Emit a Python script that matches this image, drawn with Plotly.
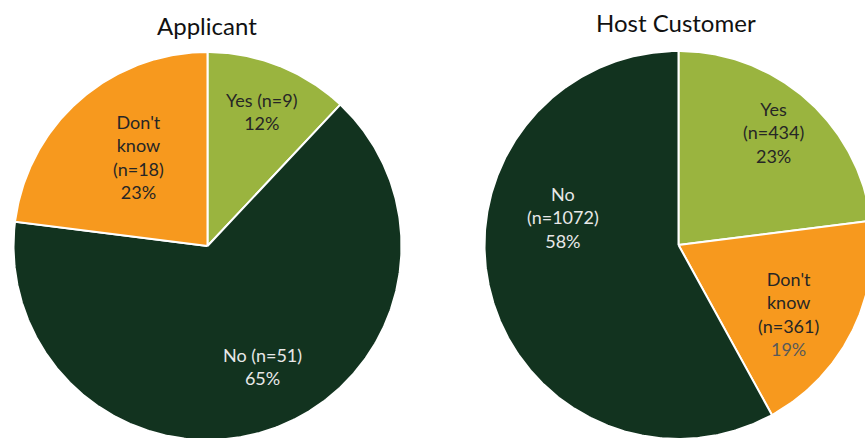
import numpy as np
import plotly.graph_objects as go

# Survey responses, listed clockwise from 12 o'clock for each pie
applicant_categories = ["Yes", "No", "Don't know"]
applicant_n = [9, 51, 18]
applicant_pct = [12, 65, 23]

host_categories = ["Yes", "Don't know", "No"]
host_n = [434, 361, 1072]
host_pct = [23, 19, 58]

SLICE_COLORS = {"Yes": "#9AB43F", "No": "#12331F", "Don't know": "#F7991E"}
TEXT_COLORS = {"Yes": "#262626", "No": "#E8E8E8", "Don't know": "#262626"}

W, H = 865, 438
RADIUS = 194
FONT = "Lato, 'Open Sans', sans-serif"

pies = [
    dict(
        title="Applicant",
        cats=applicant_categories, n=applicant_n, pct=applicant_pct,
        center=(207.5, 246), title_xy=(207, 25),
        wrap={"Yes": False, "No": False, "Don't know": True},
        # (radial fraction, angular nudge in degrees) for each label
        place={"Yes": (0.75, 0.5), "No": (0.68, -4.6), "Don't know": (0.58, 3.8)},
        pct_color={},
    ),
    dict(
        title="Host Customer",
        cats=host_categories, n=host_n, pct=host_pct,
        center=(678.5, 245), title_xy=(676, 22),
        wrap={"Yes": True, "No": True, "Don't know": True},
        place={"Yes": (0.76, -1.4), "No": (0.61, 28.0), "Don't know": (0.67, 5.1)},
        pct_color={"Don't know": "#595959"},
    ),
]


def point(cx, cy, r, deg):
    """Clockwise angle from 12 o'clock, y axis pointing down."""
    t = np.radians(deg)
    return cx + r * np.sin(t), cy - r * np.cos(t)


def label_text(cat, n, pct, wrap, pct_color):
    if wrap:
        head = "<br>".join(cat.split(" ")) + f"<br>(n={n})"
    else:
        head = f"{cat} (n={n})"
    pct_txt = f"{pct}%"
    if pct_color:
        pct_txt = f"<span style='color:{pct_color}'>{pct_txt}</span>"
    return head + "<br>" + pct_txt


fig = go.Figure()
annotations = []

for pie in pies:
    cx, cy = pie["center"]
    total = float(sum(pie["pct"]))
    start = 0.0
    for cat, n, pct in zip(pie["cats"], pie["n"], pie["pct"]):
        sweep = 360.0 * pct / total
        angles = np.linspace(start, start + sweep, max(int(sweep * 2), 8))
        xs, ys = point(cx, cy, RADIUS, angles)
        fig.add_trace(go.Scatter(
            x=np.concatenate([[cx], xs, [cx]]),
            y=np.concatenate([[cy], ys, [cy]]),
            mode="lines", fill="toself",
            fillcolor=SLICE_COLORS[cat],
            line=dict(color="white", width=2),
            hoverinfo="skip", showlegend=False,
        ))
        frac, nudge = pie["place"][cat]
        lx, ly = point(cx, cy, RADIUS * frac, start + sweep / 2 + nudge)
        annotations.append(dict(
            x=lx, y=ly, xref="x", yref="y", showarrow=False,
            xanchor="center", yanchor="middle", align="center",
            text=label_text(cat, n, pct, pie["wrap"][cat], pie["pct_color"].get(cat)),
            font=dict(family=FONT, size=18, color=TEXT_COLORS[cat]),
        ))
        start += sweep

    tx, ty = pie["title_xy"]
    annotations.append(dict(
        x=tx, y=ty, xref="x", yref="y", showarrow=False,
        xanchor="center", yanchor="middle", text=pie["title"],
        font=dict(family=FONT, size=24, color="#111111"),
    ))

fig.update_layout(
    width=W, height=H,
    margin=dict(l=0, r=0, t=0, b=0),
    paper_bgcolor="white", plot_bgcolor="white",
    xaxis=dict(range=[0, W], visible=False, fixedrange=True),
    yaxis=dict(range=[H, 0], visible=False, fixedrange=True),
    annotations=annotations,
    showlegend=False,
)

fig.write_html("out.html")
